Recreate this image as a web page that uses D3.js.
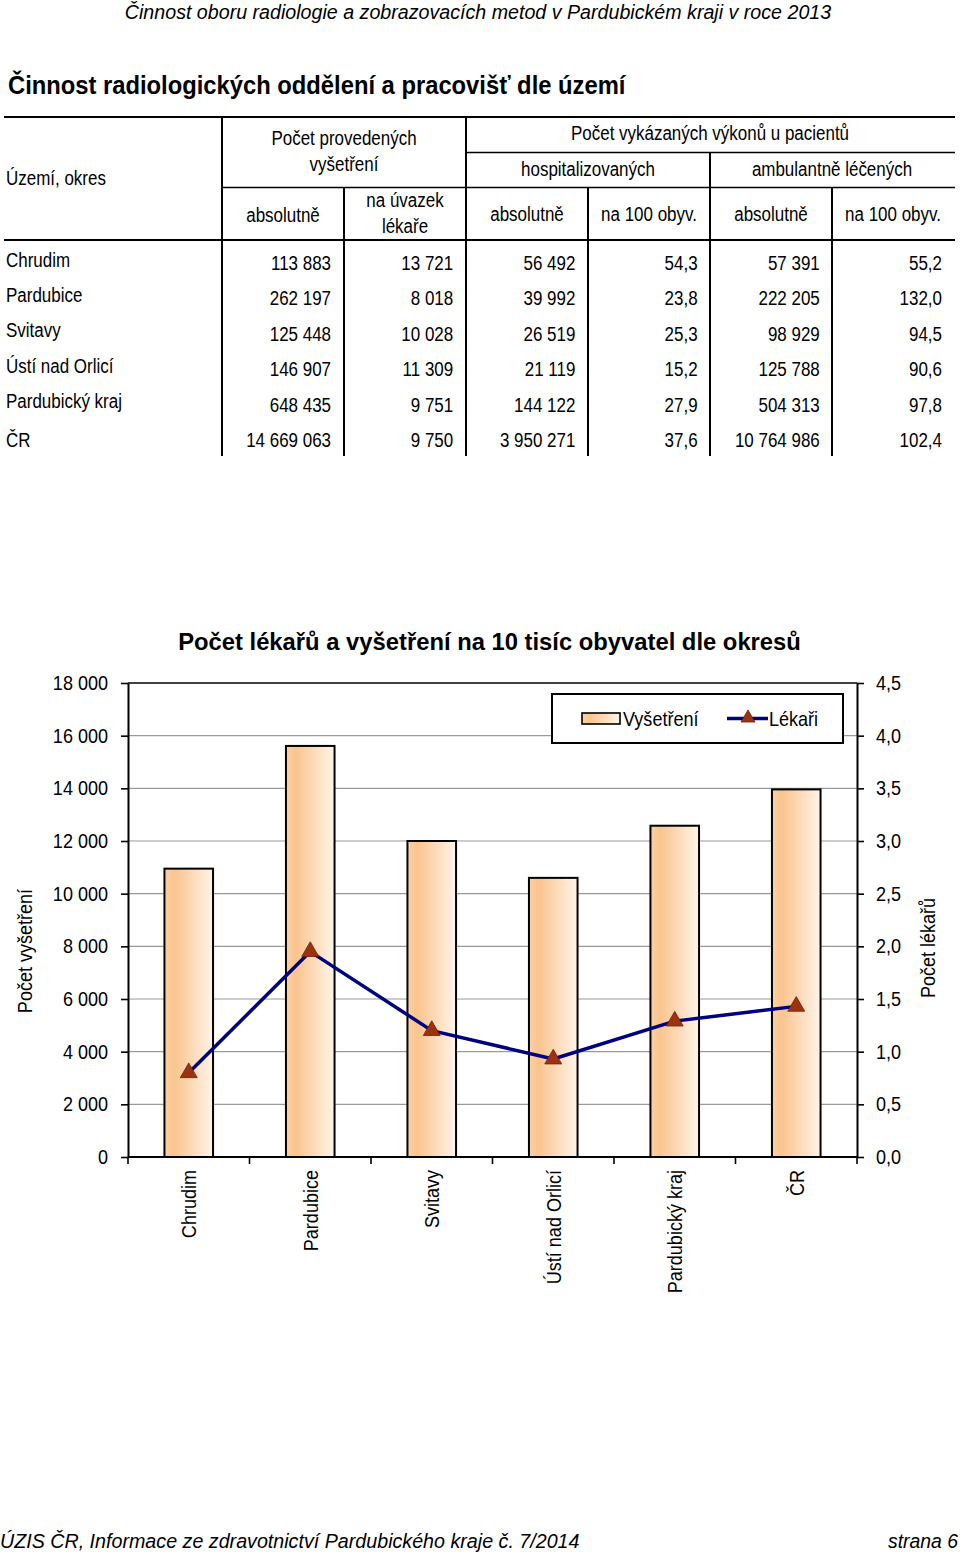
<!DOCTYPE html>
<html>
<head>
<meta charset="utf-8">
<script src="https://cdn.jsdelivr.net/npm/d3@7"></script>
<style>
  html, body { margin: 0; padding: 0; background: #fff; }
  svg { display: block; }
  text { font-family: "Liberation Sans", Arial, sans-serif; fill: #000; }
</style>
</head>
<body>
<svg id="page" width="960" height="1554"></svg>
<script>
// ---------------- DATA ----------------
const pageHeader = "Činnost oboru radiologie a zobrazovacích metod v Pardubickém kraji v roce 2013";
const sectionTitle = "Činnost radiologických oddělení a pracovišť dle území";
const footerLeft = "ÚZIS ČR, Informace ze zdravotnictví Pardubického kraje č. 7/2014";
const footerRight = "strana 6";

const regions = ["Chrudim", "Pardubice", "Svitavy", "Ústí nad Orlicí", "Pardubický kraj", "ČR"];
const vysAbs = [113883, 262197, 125448, 146907, 648435, 14669063];
const vysUvazek = [13721, 8018, 10028, 11309, 9751, 9750];
const hospAbs = [56492, 39992, 26519, 21119, 144122, 3950271];
const hosp100 = [54.3, 23.8, 25.3, 15.2, 27.9, 37.6];
const ambAbs = [57391, 222205, 98929, 125788, 504313, 10764986];
const amb100 = [55.2, 132.0, 94.5, 90.6, 97.8, 102.4];

const chartTitle = "Počet lékařů a vyšetření na 10 tisíc obyvatel dle okresů";
const categories = ["Chrudim", "Pardubice", "Svitavy", "Ústí nad Orlicí", "Pardubický kraj", "ČR"];
const vysetreni = [10950, 15610, 12000, 10600, 12580, 13960];
const lekari = [0.80, 1.95, 1.20, 0.93, 1.29, 1.43];
const leftTicks = [0, 2000, 4000, 6000, 8000, 10000, 12000, 14000, 16000, 18000];
const rightTicks = [0, 0.5, 1, 1.5, 2, 2.5, 3, 3.5, 4, 4.5];
const seriesNames = ["Vyšetření", "Lékaři"];
const axisTitles = ["Počet vyšetření", "Počet lékařů"];

// ---------------- HELPERS ----------------
const cz = d3.formatLocale({ decimal: ",", thousands: " ", grouping: [3], currency: ["", " Kč"] });
const fmtInt = cz.format(",d");
const fmt1 = cz.format(",.1f");

const FS = 19.5;
const SX = 0.87;
const svg = d3.select("#page");

function label(parent, x, y, str, o = {}) {
  const rot = o.rotate ? ` rotate(${o.rotate})` : "";
  const t = parent.append("text")
    .attr("text-anchor", o.anchor || "start")
    .style("font-size", (o.size || FS) + "px")
    .style("font-weight", o.weight || "normal")
    .style("font-style", o.style || "normal")
    .text(str);
  let sx = o.sx || SX;
  if (o.fit) {
    const w = t.node().getComputedTextLength();
    sx = o.fit / w;
  }
  t.attr("transform", `translate(${x},${y})${rot} scale(${sx},1)`);
  return t;
}

// ---------------- PAGE TEXT ----------------
label(svg, 478, 19, pageHeader, { anchor: "middle", style: "italic", size: 19.5, fit: 707 });
label(svg, 8, 94, sectionTitle, { weight: "bold", size: 25, fit: 618 });
label(svg, 0, 1548, footerLeft, { style: "italic", size: 19.5, fit: 580 });
label(svg, 958, 1548, footerRight, { anchor: "end", style: "italic", size: 19.5, fit: 70 });

// ---------------- TABLE ----------------
const tbl = svg.append("g");
function hline(y, x1, x2, w) {
  tbl.append("line").attr("x1", x1).attr("x2", x2).attr("y1", y).attr("y2", y)
    .attr("stroke", "#000").attr("stroke-width", w);
}
function vline(x, y1, y2, w) {
  tbl.append("line").attr("x1", x).attr("x2", x).attr("y1", y1).attr("y2", y2)
    .attr("stroke", "#000").attr("stroke-width", w);
}
hline(117, 4, 955, 2.2);
hline(152.5, 466, 955, 1.6);
hline(187.5, 222, 955, 1.6);
hline(240, 4, 955, 2.2);
vline(222, 116, 456, 2);
vline(466, 116, 456, 2);
vline(344, 187, 456, 2);
vline(588, 187, 456, 2);
vline(710, 152, 456, 2);
vline(832, 187, 456, 2);

// header labels
label(tbl, 6, 185, "Území, okres");
label(tbl, 344, 145, "Počet provedených", { anchor: "middle" });
label(tbl, 344, 171, "vyšetření", { anchor: "middle" });
label(tbl, 283, 222, "absolutně", { anchor: "middle" });
label(tbl, 405, 207, "na úvazek", { anchor: "middle" });
label(tbl, 405, 233, "lékaře", { anchor: "middle" });
label(tbl, 710, 140, "Počet vykázaných výkonů u pacientů", { anchor: "middle" });
label(tbl, 588, 176, "hospitalizovaných", { anchor: "middle" });
label(tbl, 832, 176, "ambulantně léčených", { anchor: "middle" });
label(tbl, 527, 221, "absolutně", { anchor: "middle" });
label(tbl, 649, 221, "na 100 obyv.", { anchor: "middle" });
label(tbl, 771, 221, "absolutně", { anchor: "middle" });
label(tbl, 893, 221, "na 100 obyv.", { anchor: "middle" });

// body
const rowY = d3.scalePoint().domain(regions).range([270, 447]);
const colIdx = [0, 1, 2, 3, 4, 5];
const colX = d3.scalePoint().domain(colIdx).range([331, 942]);
const columns = [
  vysAbs.map(fmtInt), vysUvazek.map(fmtInt),
  hospAbs.map(fmtInt), hosp100.map(fmt1),
  ambAbs.map(fmtInt), amb100.map(fmt1)
];
regions.forEach((r, i) => {
  label(tbl, 6, rowY(r) - (i < regions.length - 1 ? 3.5 : 0), r);
  colIdx.forEach(c => {
    label(tbl, colX(c), rowY(r), columns[c][i], { anchor: "end" });
  });
});

// ---------------- CHART ----------------
const X0 = 128, X1 = 857, Y0 = 1157, Y1 = 683;
const chart = svg.append("g");

const defs = svg.append("defs");
const grad = defs.append("linearGradient").attr("id", "barGrad")
  .attr("x1", "0").attr("x2", "1").attr("y1", "0").attr("y2", "0");
grad.append("stop").attr("offset", "0").attr("stop-color", "#FBD1A6");
grad.append("stop").attr("offset", "0.2").attr("stop-color", "#FAC48E");
grad.append("stop").attr("offset", "1").attr("stop-color", "#FFF4E9");

const x = d3.scaleBand().domain(categories).range([X0, X1]).paddingInner(0.6).paddingOuter(0.3);
const yL = d3.scaleLinear().domain([0, 18000]).range([Y0, Y1]);
const yR = d3.scaleLinear().domain([0, 4.5]).range([Y0, Y1]);

// gridlines
chart.append("g").selectAll("line").data(leftTicks.slice(1, -1)).join("line")
  .attr("x1", X0).attr("x2", X1).attr("y1", d => yL(d)).attr("y2", d => yL(d))
  .attr("stroke", "#9a9a9a").attr("stroke-width", 1.2);
// top border
chart.append("line").attr("x1", X0).attr("x2", X1).attr("y1", Y1).attr("y2", Y1)
  .attr("stroke", "#000").attr("stroke-width", 1.5);

// bars
chart.append("g").selectAll("rect").data(categories).join("rect")
  .attr("x", d => x(d)).attr("width", x.bandwidth())
  .attr("y", (d, i) => yL(vysetreni[i])).attr("height", (d, i) => Y0 - yL(vysetreni[i]))
  .attr("fill", "url(#barGrad)").attr("stroke", "#000").attr("stroke-width", 2);

const TSX = 0.88, TFS = 20.5;
// left axis
const axL = chart.append("g").attr("transform", `translate(${X0},0)`)
  .call(d3.axisLeft(yL).tickValues(leftTicks).tickSize(7).tickSizeOuter(0).tickFormat(fmtInt));
axL.select(".domain").attr("stroke-width", 2);
axL.selectAll(".tick line").attr("stroke-width", 1.6);
axL.selectAll("text").attr("x", -20 / TSX).attr("transform", `scale(${TSX},1)`)
  .style("font-size", TFS + "px").attr("fill", "#000");

// right axis
const axR = chart.append("g").attr("transform", `translate(${X1},0)`)
  .call(d3.axisRight(yR).tickValues(rightTicks).tickSize(7).tickSizeOuter(0).tickFormat(fmt1));
axR.select(".domain").attr("stroke-width", 2);
axR.selectAll(".tick line").attr("stroke-width", 1.6);
axR.selectAll("text").attr("x", 19 / TSX).attr("transform", `scale(${TSX},1)`)
  .style("font-size", TFS + "px").attr("fill", "#000");

// bottom axis
const step = x.step();
const bounds = categories.map(c => x(c) - (step - x.bandwidth()) / 2).concat([X1]);
chart.append("line").attr("x1", X0).attr("x2", X1).attr("y1", Y0).attr("y2", Y0)
  .attr("stroke", "#000").attr("stroke-width", 2);
chart.append("g").selectAll("line").data(bounds).join("line")
  .attr("x1", d => d).attr("x2", d => d).attr("y1", Y0).attr("y2", Y0 + 7)
  .attr("stroke", "#000").attr("stroke-width", 1.6);
categories.forEach(c => {
  label(chart, x(c) + x.bandwidth() / 2 + 7.5, 1170, c, { anchor: "end", rotate: -90, size: TFS, sx: TSX });
});

// line series
const line = d3.line().x((d, i) => x(categories[i]) + x.bandwidth() / 2).y(d => yR(d));
chart.append("path").datum(lekari).attr("d", line)
  .attr("fill", "none").attr("stroke", "#000080").attr("stroke-width", 3.5)
  .attr("stroke-linejoin", "round");
const tri = d3.symbol(d3.symbolTriangle).size(125);
chart.append("g").selectAll("path").data(lekari).join("path")
  .attr("d", tri)
  .attr("transform", (d, i) => `translate(${x(categories[i]) + x.bandwidth() / 2},${yR(d)})`)
  .attr("fill", "#9C3310").attr("stroke", "#6E2208").attr("stroke-width", 0.8);

// titles
label(svg, 489.5, 650, chartTitle, { anchor: "middle", weight: "bold", size: 23, fit: 623 });
label(svg, 32, 951, axisTitles[0], { anchor: "middle", rotate: -90, size: TFS, sx: TSX });
label(svg, 935, 948, axisTitles[1], { anchor: "middle", rotate: -90, size: TFS, sx: TSX });

// legend
const lg = svg.append("g");
lg.append("rect").attr("x", 552).attr("y", 694).attr("width", 291).attr("height", 49)
  .attr("fill", "#fff").attr("stroke", "#000").attr("stroke-width", 2);
lg.append("rect").attr("x", 582).attr("y", 713).attr("width", 38).attr("height", 11)
  .attr("fill", "url(#barGrad)").attr("stroke", "#000").attr("stroke-width", 1.6);
label(lg, 623, 726, seriesNames[0], { size: TFS, sx: TSX });
lg.append("line").attr("x1", 727).attr("x2", 768).attr("y1", 718.5).attr("y2", 718.5)
  .attr("stroke", "#000080").attr("stroke-width", 3.5);
lg.append("path").attr("d", d3.symbol(d3.symbolTriangle).size(85))
  .attr("transform", "translate(748,718)")
  .attr("fill", "#9C3310").attr("stroke", "#6E2208").attr("stroke-width", 0.8);
label(lg, 769, 726, seriesNames[1], { size: TFS, sx: TSX });
</script>
</body>
</html>
